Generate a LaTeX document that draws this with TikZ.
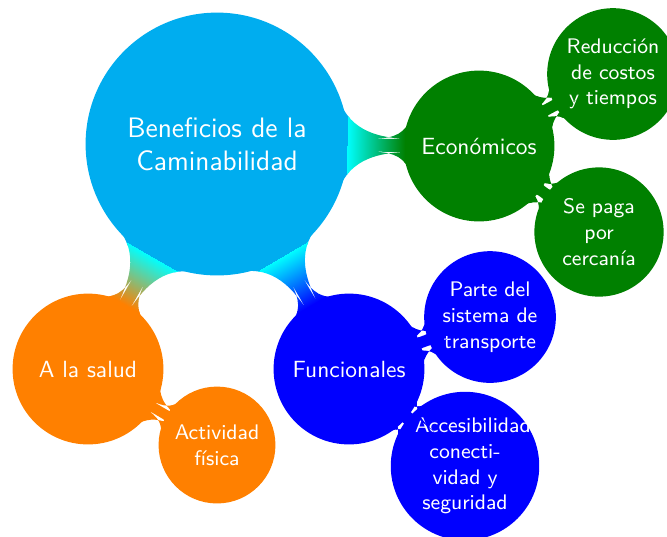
\documentclass[tikz,border=0pt]{standalone}
\usetikzlibrary{mindmap}
\colorlet{cRoot}{cyan}
\colorlet{cEco}{green!50!black}
\colorlet{cFun}{blue}
\colorlet{cSal}{orange}
\begin{document}
\begin{tikzpicture}[x=0.015cm,y=-0.015cm, mindmap, text=white,
  rootc/.style={concept, circle, minimum size=3.9cm, text width=3cm, align=center, inner sep=1pt, font=\sffamily\large},
  lvlone/.style={concept, circle, minimum size=2.22cm, text width=2cm, align=center, inner sep=1pt, font=\sffamily\normalsize},
  lvltwo/.style={concept, circle, minimum size=1.71cm, text width=1.5cm, align=center, inner sep=1pt, font=\sffamily\small}]
\useasboundingbox (0,0) rectangle (667,536);
\node[rootc, concept color=cRoot, fill=cRoot] (root) at (217,144) {Beneficios de la\\ Caminabilidad};
\node[lvlone, concept color=cEco, fill=cEco] (eco) at (479,146) {Económicos};
\node[lvltwo, concept color=cEco, fill=cEco] (red) at (613,74) {Reducción\\ de costos\\ y tiempos};
\node[lvltwo, concept color=cEco, fill=cEco] (sep) at (599,232) {Se paga\\ por\\ cercanía};
\node[lvlone, concept color=cFun, fill=cFun] (fun) at (349,369) {Funcionales};
\node[lvltwo, concept color=cFun, fill=cFun] (par) at (490,317) {Parte del\\ sistema de\\ transporte};
\node[lvltwo, concept color=cFun, fill=cFun] (acc) at (465,466) {Accesibilidad\\ conecti-\\ vidad y\\ seguridad};
\node[lvlone, concept color=cSal, fill=cSal] (sal) at (88,369) {A la salud};
\node[lvltwo, concept color=cSal, fill=cSal] (act) at (217,445) {Actividad\\ física};
\path (root) to[circle connection bar switch color=from (cRoot) to (cEco)] (eco);
\path (root) to[circle connection bar switch color=from (cRoot) to (cFun)] (fun);
\path (root) to[circle connection bar switch color=from (cRoot) to (cSal)] (sal);
\path (eco) to[circle connection bar switch color=from (cEco) to (cEco)] (red);
\path (eco) to[circle connection bar switch color=from (cEco) to (cEco)] (sep);
\path (fun) to[circle connection bar switch color=from (cFun) to (cFun)] (par);
\path (fun) to[circle connection bar switch color=from (cFun) to (cFun)] (acc);
\path (sal) to[circle connection bar switch color=from (cSal) to (cSal)] (act);
\end{tikzpicture}
\end{document}
